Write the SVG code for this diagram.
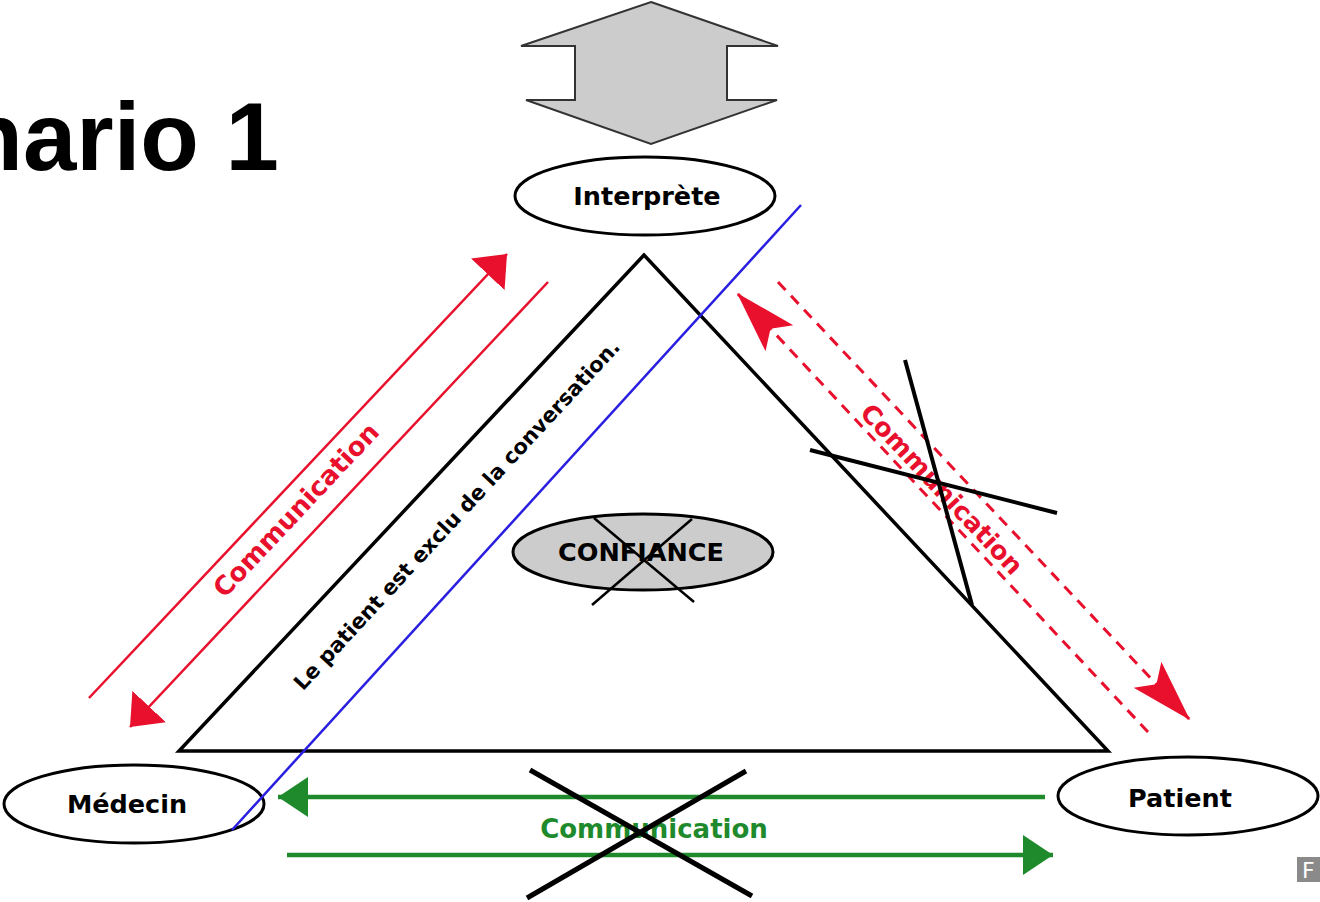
<svg xmlns="http://www.w3.org/2000/svg" width="1320" height="902" viewBox="0 0 1320 902">
<style>
  .lbl { font-family: "DejaVu Sans", "Liberation Sans", sans-serif; font-weight: bold; text-anchor: middle; }
  .node { fill: #ffffff; stroke: #000000; stroke-width: 3; }
  .grey { fill: #cccccc; stroke: #000000; stroke-width: 3; }
  .cross { stroke: #000000; stroke-linecap: butt; fill: none; }
  .red { stroke: #e8102c; stroke-width: 2.5; fill: none; }
  .reddash { stroke: #e8102c; stroke-width: 3; fill: none; stroke-dasharray: 11 8; }
  .green { stroke: #1e8a2c; stroke-width: 4.5; fill: none; }
</style>
<defs>
  <marker id="redTri" markerUnits="userSpaceOnUse" viewBox="0 0 28 46" refX="28" refY="23" markerWidth="28" markerHeight="46" orient="auto">
    <path d="M0,0 L28,23 L0,46 Z" fill="#e8102c"/>
  </marker>
  <marker id="redBarb" markerUnits="userSpaceOnUse" viewBox="0 0 62 40" refX="62" refY="20" markerWidth="62" markerHeight="40" orient="auto">
    <path d="M62,20 L0,1 L13,20 L0,39 Z" fill="#e8102c"/>
  </marker>
  <marker id="greenTri" markerUnits="userSpaceOnUse" viewBox="0 0 30 40" refX="30" refY="20" markerWidth="30" markerHeight="40" orient="auto">
    <path d="M0,0 L30,20 L0,40 Z" fill="#1e8a2c"/>
  </marker>
</defs>
<rect width="1320" height="902" fill="#ffffff"/>

<text x="279" y="170" font-family="'Liberation Sans', Arial, sans-serif" font-weight="bold" font-size="96" text-anchor="end" fill="#000000">nario 1</text>

<g id="arrow-top">
  <polygon points="651,2 778,46 727,46 727,100 777,100 651,144 526,100 575,100 575,46 521,46" fill="#cccccc" stroke="#333333" stroke-width="2"/>
</g>

<g id="triangle">
  <polygon points="644,255 179,751 1108,751" fill="none" stroke="#000000" stroke-width="3.5"/>
</g>

<g id="node-interprete">
  <ellipse class="node" cx="645" cy="196" rx="130" ry="39"/>
  <text class="lbl" font-size="25.5" x="647" y="205" fill="#000000">Interprète</text>
</g>

<g id="node-medecin">
  <ellipse class="node" cx="134" cy="804" rx="130" ry="39"/>
  <text class="lbl" font-size="25.5" x="127" y="813" fill="#000000">Médecin</text>
</g>

<g id="node-patient">
  <ellipse class="node" cx="1188" cy="796" rx="130" ry="39"/>
  <text class="lbl" font-size="25.5" x="1180" y="807" fill="#000000">Patient</text>
</g>

<g id="node-confiance">
  <ellipse class="grey" cx="643" cy="552" rx="130" ry="38"/>
  <text class="lbl" font-size="25.5" x="641" y="561" fill="#000000">CONFIANCE</text>
  <line class="cross" stroke-width="2.5" x1="594" y1="518" x2="694" y2="602"/>
  <line class="cross" stroke-width="2.5" x1="692" y1="519" x2="592" y2="605"/>
</g>

<g id="connectors">
  <line x1="801" y1="205" x2="232" y2="830" stroke="#2a1fe0" stroke-width="2.5"/>
  <line class="red" x1="89" y1="698" x2="507" y2="254" marker-end="url(#redTri)"/>
  <line class="red" x1="548" y1="282" x2="130" y2="727" marker-end="url(#redTri)"/>
  <line class="reddash" x1="778" y1="282" x2="1190" y2="720" marker-end="url(#redBarb)"/>
  <line class="reddash" x1="1148" y1="732" x2="737" y2="293" marker-end="url(#redBarb)"/>
  <line class="green" x1="1045" y1="797" x2="278" y2="797" marker-end="url(#greenTri)"/>
  <line class="green" x1="287" y1="855" x2="1053" y2="855" marker-end="url(#greenTri)"/>
</g>

<g id="labels">
  <text class="lbl" font-size="26" fill="#e8102c" transform="translate(296,510) rotate(-46.7)" x="0" y="9">Communication</text>
  <text class="lbl" font-size="21" fill="#000000" transform="translate(457,515) rotate(-47.2)" x="0" y="7">Le patient est exclu de la conversation.</text>
  <text class="lbl" font-size="25.5" fill="#e8102c" transform="translate(942,489) rotate(46.7)" x="0" y="9">Communication</text>
  <text class="lbl" font-size="26" fill="#1e8a2c" x="654" y="838">Communication</text>
</g>

<g id="cross-right">
  <line class="cross" stroke-width="4" x1="905" y1="360" x2="972" y2="605"/>
  <line class="cross" stroke-width="4" x1="810" y1="450" x2="1057" y2="513"/>
</g>

<g id="cross-bottom">
  <line class="cross" stroke-width="5" x1="530" y1="770" x2="752" y2="896"/>
  <line class="cross" stroke-width="5" x1="746" y1="771" x2="527" y2="898"/>
</g>

<g id="corner-badge">
  <rect x="1297" y="857" width="26" height="25" fill="#8a8a8a"/>
  <text x="1302" y="878" font-family="'DejaVu Sans', sans-serif" font-size="22" fill="#ffffff">F</text>
</g>
</svg>
